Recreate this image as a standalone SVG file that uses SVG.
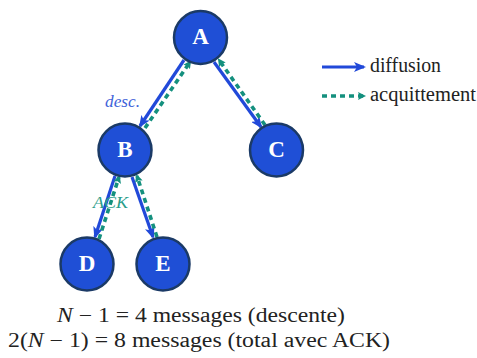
<svg xmlns="http://www.w3.org/2000/svg" width="477" height="358" viewBox="0 0 477 358" font-family="Liberation Serif, Times New Roman, DejaVu Serif, serif">
  <style>
    .node circle { fill: #1f4fd6; stroke: #1b3a66; stroke-width: 2.5; }
    .node text { fill: #ffffff; font-weight: bold; font-size: 23px; text-anchor: middle; }
    .diff { stroke: #2149d9; stroke-width: 3.2; fill: none; marker-end: url(#headBlue); }
    .ack { stroke: #14907e; stroke-width: 3.6; fill: none; stroke-dasharray: 5 4; marker-end: url(#headTeal); }
    .lbl { font-style: italic; font-size: 16px; }
    .txt { font-size: 20px; fill: #222222; }
  </style>
  <defs>
    <marker id="headBlue" viewBox="0 0 12 10" refX="10" refY="5" markerWidth="12" markerHeight="10" markerUnits="userSpaceOnUse" orient="auto">
      <path d="M0,0 L12,5 L0,10 L3,5 Z" fill="#2149d9"/>
    </marker>
    <marker id="headTeal" viewBox="0 0 8 8" refX="6" refY="4" markerWidth="8" markerHeight="8" markerUnits="userSpaceOnUse" orient="auto">
      <path d="M0,0 L8,4 L0,8 L1.5,4 Z" fill="#14907e"/>
    </marker>
  </defs>

  <!-- connectors: broadcast down, acknowledgements back up -->
  <g id="connectors">
    <line class="diff" x1="184" y1="60" x2="140" y2="126"/>
    <line class="ack" x1="145" y1="128" x2="190" y2="62"/>
    <line class="diff" x1="214" y1="62" x2="261" y2="127"/>
    <line class="ack" x1="265" y1="125" x2="219" y2="60"/>
    <line class="diff" x1="115" y1="176" x2="95" y2="237"/>
    <line class="ack" x1="99" y1="239" x2="119" y2="177"/>
    <line class="diff" x1="132" y1="177" x2="153" y2="237"/>
    <line class="ack" x1="157" y1="237" x2="137" y2="176"/>
    <text class="lbl" x="105" y="107" fill="#3e63d9" textLength="35" lengthAdjust="spacingAndGlyphs">desc.</text>
    <text class="lbl" x="93" y="208" fill="#2a9d8a" textLength="35" lengthAdjust="spacingAndGlyphs">ACK</text>
  </g>

  <g id="A" class="node"><circle cx="200.5" cy="37.5" r="26.5"/><text x="200.5" y="44">A</text></g>
  <g id="B" class="node"><circle cx="125" cy="150" r="26.5"/><text x="125" y="156.5">B</text></g>
  <g id="C" class="node"><circle cx="276.5" cy="150" r="26.5"/><text x="276.5" y="156.5">C</text></g>
  <g id="D" class="node"><circle cx="87" cy="264" r="26.5"/><text x="87" y="270.5">D</text></g>
  <g id="E" class="node"><circle cx="163" cy="264" r="26.5"/><text x="163" y="270.5">E</text></g>

  <!-- legend -->
  <g id="legend">
    <line class="diff" x1="322" y1="67" x2="364" y2="67"/>
    <text class="txt" x="370" y="72" font-size="17" textLength="71" lengthAdjust="spacingAndGlyphs">diffusion</text>
    <line class="ack" x1="322" y1="96" x2="364" y2="96"/>
    <text class="txt" x="370" y="101" font-size="17" textLength="106" lengthAdjust="spacingAndGlyphs">acquittement</text>
  </g>

  <!-- message counts -->
  <g id="summary">
    <text class="txt" x="57" y="322" textLength="288" lengthAdjust="spacingAndGlyphs"><tspan font-style="italic">N</tspan> − 1 = 4 messages (descente)</text>
    <text class="txt" x="8" y="347" textLength="382" lengthAdjust="spacingAndGlyphs">2(<tspan font-style="italic">N</tspan> − 1) = 8 messages (total avec ACK)</text>
  </g>
</svg>
